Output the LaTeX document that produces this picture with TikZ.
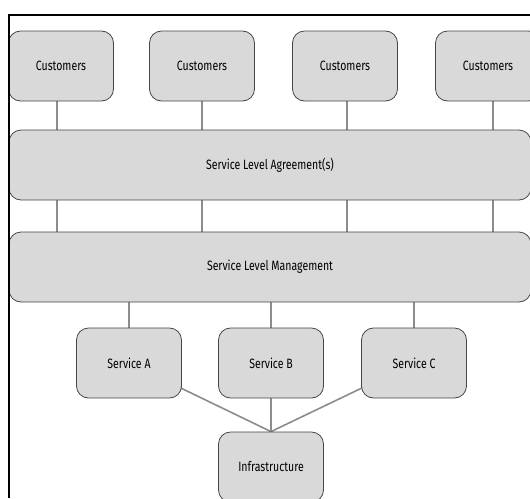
\documentclass[tikz,border=0pt]{standalone}
\usepackage{fontspec}
\setmainfont{Fira Sans}[FakeStretch=0.78]
\usetikzlibrary{backgrounds}
\definecolor{boxfill}{RGB}{217,217,217}
\definecolor{boxline}{RGB}{70,70,70}
\definecolor{linkgray}{RGB}{140,140,140}
\begin{document}
\begin{tikzpicture}[x=1pt, y=-1pt,
	every node/.style = {shape=rectangle, rounded corners=12pt, draw=boxline,
		line width=0.8pt, fill=boxfill, align=center, inner sep=0pt,
		minimum height=70pt, font=\fontsize{13.5}{15}\selectfont},
	smallbox/.style = {minimum width=105pt},
	widebox/.style = {minimum width=522pt},
	link/.style = {draw=linkgray, line width=1.6pt}]
	\clip (0,0) rectangle (530,498);
	% customers
	\node[smallbox] (cust1) at (61,66) {Customers};
	\node[smallbox] (cust2) at (202,66) {Customers};
	\node[smallbox] (cust3) at (345,66) {Customers};
	\node[smallbox] (cust4) at (488,66) {Customers};
	% service level
	\node[widebox] (sla) at (270,165) {Service Level Agreement(s)};
	\node[widebox] (slm) at (270,267) {Service Level Management};
	% services
	\node[smallbox] (srva) at (129,363) {Service A};
	\node[smallbox] (srvb) at (271,363) {Service B};
	\node[smallbox] (srvc) at (414,363) {Service C};
	\node[smallbox] (infra) at (271,467) {Infrastructure};
	\begin{scope}[on background layer]
		\foreach \i/\xx in {1/57,2/202,3/347,4/493} {
			\path[link] (sla.north -| {(\xx,0)}) -- (cust\i.south -| {(\xx,0)});
			\path[link] (sla.south -| {(\xx,0)}) -- (slm.north -| {(\xx,0)});
		}
		\foreach \s in {srva,srvb,srvc}
			\path[link] (slm.south -| \s) -- (\s.north);
		\path[link] (srva.center) -- (infra.north);
		\path[link] (srvb.center) -- (infra.north);
		\path[link] (srvc.center) -- (infra.north);
	\end{scope}
	% frame
	\draw[line width=1.6pt] (530,15) -- (9,15) -- (9,498);
\end{tikzpicture}
\end{document}
